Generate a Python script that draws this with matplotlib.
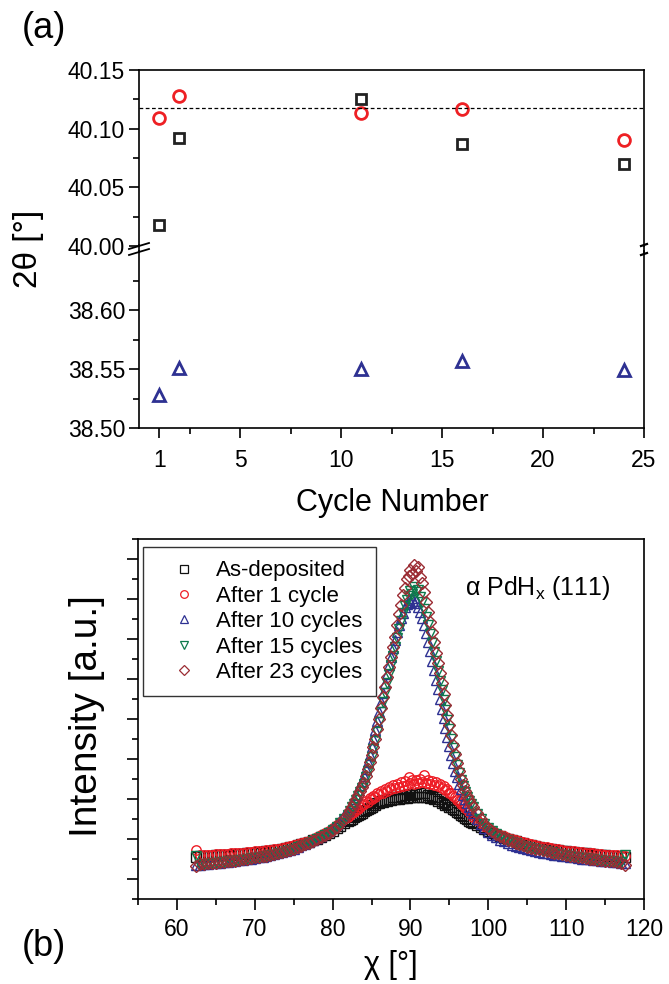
import matplotlib
matplotlib.use('Agg')
import matplotlib.pyplot as plt
from matplotlib.lines import Line2D
from matplotlib.ticker import FixedLocator, NullFormatter

plt.rcParams['font.family'] = ['Liberation Sans', 'DejaVu Sans']
plt.rcParams['mathtext.fontset'] = 'custom'
plt.rcParams['mathtext.rm'] = 'Liberation Sans'
plt.rcParams['mathtext.it'] = 'Liberation Sans:italic'

# ---------------- panel (a) data ----------------
cycles = [1, 2, 11, 16, 24]
peak_square = [40.018, 40.092, 40.125, 40.087, 40.070]
peak_circle = [40.109, 40.128, 40.113, 40.117, 40.090]
peak_triangle = [38.528, 38.551, 38.550, 38.557, 38.549]
reference_2theta = 40.118
xticks_a = [1, 5, 10, 15, 20, 25]
upper_ticks = [40.00, 40.05, 40.10, 40.15]
lower_ticks = [38.50, 38.55, 38.60]

# ---------------- panel (b) data ----------------
chi = [62.5, 63.0, 63.5, 64.0, 64.5, 65.0, 65.5, 66.0, 66.5, 67.0, 67.5, 68.0, 68.5, 69.0, 69.5,
       70.0, 70.5, 71.0, 71.5, 72.0, 72.5, 73.0, 73.5, 74.0, 74.5, 75.0, 75.5, 76.0, 76.5, 77.0,
       77.5, 78.0, 78.5, 79.0, 79.5, 80.0, 80.5, 81.0, 81.5, 82.0,
       82.25, 82.5, 82.75, 83.0, 83.25, 83.5, 83.75, 84.0, 84.25, 84.5, 84.75, 85.0, 85.25, 85.5,
       85.75, 86.0, 86.25, 86.5, 86.75, 87.0, 87.25, 87.5, 87.75, 88.0, 88.25, 88.5, 88.75, 89.0,
       89.25, 89.5, 89.75, 90.0, 90.25, 90.5, 90.75, 91.0, 91.25, 91.5, 91.75, 92.0, 92.25, 92.5,
       92.75, 93.0, 93.25, 93.5, 93.75, 94.0, 94.25, 94.5, 94.75, 95.0, 95.25, 95.5, 95.75, 96.0,
       96.25, 96.5, 96.75, 97.0, 97.25, 97.5, 97.75, 98.0,
       98.5, 99.0, 99.5, 100.0, 100.5, 101.0, 101.5, 102.0, 102.5, 103.0, 103.5, 104.0, 104.5,
       105.0, 105.5, 106.0, 106.5, 107.0, 107.5, 108.0, 108.5, 109.0, 109.5, 110.0, 110.5, 111.0,
       111.5, 112.0, 112.5, 113.0, 113.5, 114.0, 114.5, 115.0, 115.5, 116.0, 116.5, 117.0, 117.5]

as_deposited = [0.56, 0.57, 0.57, 0.58, 0.58, 0.59, 0.59, 0.60, 0.60, 0.61, 0.62, 0.62, 0.63, 0.64, 0.65,
                0.66, 0.67, 0.68, 0.69, 0.70, 0.72, 0.73, 0.75, 0.77, 0.79, 0.81, 0.84, 0.87, 0.90, 0.93,
                0.97, 1.01, 1.05, 1.10, 1.15, 1.21, 1.27, 1.33, 1.39, 1.45,
                1.48, 1.51, 1.54, 1.57, 1.60, 1.63, 1.66, 1.69, 1.72, 1.75, 1.78, 1.81, 1.84, 1.86,
                1.89, 1.91, 1.94, 1.92, 1.98, 1.95, 2.01, 1.97, 2.04, 1.99, 2.06, 2.00, 2.08, 2.02,
                2.10, 2.03, 2.12, 2.04, 2.10, 2.04, 2.13, 2.05, 2.15, 2.06, 2.14, 2.04, 2.11, 2.02,
                2.08, 1.99, 2.04, 1.95, 1.99, 1.91, 1.93, 1.86, 1.87, 1.80, 1.80, 1.74, 1.73, 1.67,
                1.66, 1.60, 1.58, 1.53, 1.50, 1.46, 1.43, 1.39,
                1.34, 1.29, 1.24, 1.19, 1.15, 1.11, 1.07, 1.03, 1.00, 0.97, 0.94, 0.91, 0.89,
                0.86, 0.84, 0.82, 0.80, 0.78, 0.76, 0.75, 0.73, 0.72, 0.70, 0.69, 0.68, 0.67,
                0.66, 0.65, 0.64, 0.63, 0.62, 0.61, 0.60, 0.59, 0.58, 0.58, 0.57, 0.56, 0.55]

after_1 = [0.73, 0.60, 0.60, 0.61, 0.61, 0.62, 0.62, 0.63, 0.63, 0.64, 0.65, 0.65, 0.66, 0.67, 0.68,
           0.69, 0.70, 0.71, 0.72, 0.73, 0.75, 0.76, 0.78, 0.80, 0.82, 0.84, 0.87, 0.90, 0.93, 0.96,
           1.00, 1.05, 1.10, 1.15, 1.21, 1.28, 1.35, 1.42, 1.49, 1.56,
           1.60, 1.64, 1.68, 1.72, 1.76, 1.80, 1.84, 1.88, 1.95, 1.92, 2.02, 2.00, 2.08, 2.05,
           2.14, 2.12, 2.20, 2.16, 2.25, 2.20, 2.30, 2.24, 2.34, 2.27, 2.38, 2.30, 2.42, 2.33,
           2.45, 2.36, 2.55, 2.40, 2.48, 2.38, 2.47, 2.40, 2.50, 2.42, 2.60, 2.40, 2.48, 2.38,
           2.45, 2.36, 2.42, 2.32, 2.38, 2.28, 2.32, 2.22, 2.25, 2.15, 2.16, 2.07, 2.06, 1.98,
           1.96, 1.88, 1.85, 1.78, 1.74, 1.67, 1.62, 1.56,
           1.48, 1.40, 1.33, 1.27, 1.21, 1.16, 1.11, 1.07, 1.03, 1.00, 0.97, 0.94, 0.92,
           0.89, 0.87, 0.85, 0.83, 0.81, 0.79, 0.77, 0.76, 0.74, 0.73, 0.71, 0.70, 0.69,
           0.68, 0.67, 0.66, 0.65, 0.64, 0.63, 0.62, 0.61, 0.60, 0.60, 0.59, 0.58, 0.57]

after_10 = [0.34, 0.36, 0.37, 0.38, 0.39, 0.40, 0.41, 0.42, 0.43, 0.44, 0.46, 0.47, 0.48, 0.50, 0.51,
            0.53, 0.55, 0.56, 0.58, 0.60, 0.62, 0.64, 0.67, 0.70, 0.73, 0.76, 0.80, 0.84, 0.88, 0.92,
            0.97, 1.02, 1.08, 1.14, 1.21, 1.29, 1.38, 1.48, 1.59, 1.71,
            1.80, 1.90, 2.00, 2.11, 2.22, 2.34, 2.46, 2.58, 2.74, 2.92, 3.10, 3.30, 3.50, 3.72,
            3.95, 4.18, 4.42, 4.66, 4.90, 5.12, 5.35, 5.56, 5.78, 5.98, 6.18, 6.36, 6.52, 6.66,
            6.80, 6.88, 6.98, 6.92, 7.02, 6.90, 6.95, 6.80, 6.68, 6.52, 6.34, 6.14, 5.92, 5.70,
            5.46, 5.22, 4.98, 4.74, 4.50, 4.26, 4.02, 3.78, 3.55, 3.32, 3.10, 2.90, 2.71, 2.54,
            2.38, 2.24, 2.11, 2.00, 1.90, 1.81, 1.72, 1.64,
            1.50, 1.38, 1.27, 1.18, 1.10, 1.04, 0.98, 0.94, 0.90, 0.86, 0.83, 0.80, 0.77,
            0.75, 0.72, 0.70, 0.68, 0.66, 0.65, 0.63, 0.61, 0.60, 0.58, 0.57, 0.55, 0.54,
            0.53, 0.51, 0.50, 0.49, 0.48, 0.47, 0.46, 0.45, 0.44, 0.43, 0.42, 0.41, 0.40]

after_15 = [0.58, 0.36, 0.38, 0.38, 0.39, 0.41, 0.42, 0.42, 0.44, 0.45, 0.46, 0.48, 0.48, 0.50, 0.52,
            0.53, 0.55, 0.56, 0.58, 0.60, 0.61, 0.64, 0.66, 0.69, 0.72, 0.75, 0.79, 0.82, 0.86, 0.90,
            0.95, 0.99, 1.04, 1.09, 1.16, 1.22, 1.30, 1.39, 1.50, 1.61,
            1.70, 1.79, 1.88, 1.98, 2.08, 2.18, 2.28, 2.38, 2.54, 2.70, 2.88, 3.05, 3.25, 3.45,
            3.68, 3.92, 4.18, 4.42, 4.66, 4.90, 5.12, 5.36, 5.58, 5.80, 6.02, 6.25, 6.45, 6.65,
            6.82, 6.98, 7.08, 7.20, 7.12, 7.30, 7.18, 7.22, 7.05, 6.92, 6.75, 6.55, 6.35, 6.12,
            5.90, 5.68, 5.45, 5.20, 4.96, 4.72, 4.48, 4.22, 3.98, 3.74, 3.50, 3.27, 3.05, 2.85,
            2.66, 2.48, 2.33, 2.18, 2.06, 1.96, 1.87, 1.79,
            1.63, 1.49, 1.37, 1.27, 1.19, 1.12, 1.06, 1.01, 0.97, 0.93, 0.89, 0.86, 0.83,
            0.80, 0.78, 0.75, 0.73, 0.71, 0.69, 0.67, 0.65, 0.63, 0.61, 0.60, 0.58, 0.56,
            0.55, 0.53, 0.52, 0.51, 0.49, 0.48, 0.47, 0.46, 0.45, 0.44, 0.43, 0.42, 0.60]

after_23 = [0.33, 0.37, 0.38, 0.39, 0.40, 0.41, 0.42, 0.43, 0.44, 0.45, 0.46, 0.47, 0.49, 0.50, 0.52,
            0.54, 0.55, 0.57, 0.58, 0.60, 0.62, 0.64, 0.67, 0.70, 0.73, 0.76, 0.79, 0.83, 0.87, 0.91,
            0.95, 0.99, 1.04, 1.10, 1.16, 1.23, 1.31, 1.40, 1.51, 1.63,
            1.72, 1.80, 1.90, 2.00, 2.10, 2.20, 2.30, 2.40, 2.57, 2.75, 2.92, 3.10, 3.30, 3.50,
            3.75, 4.00, 4.28, 4.55, 4.80, 5.05, 5.30, 5.55, 5.80, 6.05, 6.35, 6.62, 6.85, 7.10,
            7.28, 7.50, 7.58, 7.72, 7.62, 7.86, 7.70, 7.80, 7.55, 7.40, 7.18, 6.92, 6.68, 6.42,
            6.18, 5.92, 5.66, 5.40, 5.15, 4.90, 4.62, 4.35, 4.10, 3.85, 3.60, 3.35, 3.12, 2.90,
            2.70, 2.50, 2.35, 2.20, 2.08, 1.98, 1.88, 1.80,
            1.64, 1.50, 1.38, 1.28, 1.20, 1.13, 1.07, 1.02, 0.98, 0.94, 0.90, 0.87, 0.84,
            0.81, 0.78, 0.76, 0.74, 0.72, 0.70, 0.68, 0.66, 0.64, 0.62, 0.60, 0.58, 0.57,
            0.55, 0.54, 0.52, 0.51, 0.50, 0.48, 0.47, 0.46, 0.45, 0.44, 0.43, 0.41, 0.36]

series_labels = ['As-deposited', 'After 1 cycle', 'After 10 cycles', 'After 15 cycles', 'After 23 cycles']
series_values = [as_deposited, after_1, after_10, after_15, after_23]
series_markers = ['s', 'o', '^', 'v', 'D']
series_colors = ['#111111', '#ee1c25', '#2e3192', '#0d7a4c', '#9b2c33']

# ---------------- figure ----------------
W, H = 669, 984
fig = plt.figure(figsize=(W / 100, H / 100), dpi=100)


def fx(px):
    return px / W


def fy(py):
    return 1 - py / H


def box(l, t, r, b):
    return [fx(l), fy(b), fx(r) - fx(l), fy(t) - fy(b)]


TICK_FS = 16.5
LW = 1.2

ax_up = fig.add_axes(box(139, 70, 644, 246))
ax_lo = fig.add_axes(box(139, 251, 644, 428))

sq_c, ci_c, tr_c = '#222222', '#ee2024', '#2e3192'
ax_up.plot(cycles, peak_square, ls='none', marker='s', ms=7, mew=2.0, mfc='none', mec=sq_c)
ax_up.plot(cycles, peak_circle, ls='none', marker='o', ms=8.5, mew=2.0, mfc='none', mec=ci_c)
ax_up.axhline(reference_2theta, color='black', lw=0.9, ls=(0, (3, 2)))
ax_lo.plot(cycles, peak_triangle, ls='none', marker='^', ms=8.5, mew=2.0, mfc='none', mec=tr_c)

for ax in (ax_up, ax_lo):
    ax.set_xlim(0, 25)
    for s in ax.spines.values():
        s.set_linewidth(LW)
    ax.tick_params(axis='both', which='both', direction='out', width=LW, labelsize=TICK_FS,
                   top=False, right=False)
    ax.tick_params(axis='both', which='major', length=7)
    ax.tick_params(axis='both', which='minor', length=4)
    ax.tick_params(axis='y', pad=3)

ax_up.set_ylim(40.00, 40.15)
ax_up.yaxis.set_major_locator(FixedLocator(upper_ticks))
ax_up.yaxis.set_minor_locator(FixedLocator([40.025, 40.075, 40.125]))
ax_up.set_yticklabels(['%.2f' % v for v in upper_ticks])
ax_up.spines['bottom'].set_visible(False)
ax_up.tick_params(axis='x', which='both', bottom=False, labelbottom=False)

ax_lo.set_ylim(38.50, 38.65)
ax_lo.yaxis.set_major_locator(FixedLocator(lower_ticks))
ax_lo.yaxis.set_minor_locator(FixedLocator([38.525, 38.575, 38.625]))
ax_lo.set_yticklabels(['%.2f' % v for v in lower_ticks])
ax_lo.spines['top'].set_visible(False)
ax_lo.xaxis.set_major_locator(FixedLocator(xticks_a))
ax_lo.xaxis.set_minor_locator(FixedLocator([2.5, 7.5, 12.5, 17.5, 22.5]))
ax_lo.set_xticklabels([str(v) for v in xticks_a])
ax_lo.tick_params(axis='x', pad=8)

# continuous spines over the break + break marks
for x in (139, 644):
    fig.add_artist(Line2D([fx(x), fx(x)], [fy(245), fy(252)], color='black', lw=LW,
                          transform=fig.transFigure))
for y0 in (249, 255):
    fig.add_artist(Line2D([fx(129), fx(149)], [fy(y0), fy(y0 - 6)], color='black', lw=1.3,
                          transform=fig.transFigure))
for y0 in (246, 255):
    fig.add_artist(Line2D([fx(641), fx(647)], [fy(y0), fy(y0 - 2)], color='black', lw=1.6,
                          transform=fig.transFigure))

fig.text(fx(29), fy(249), '2θ [°]', rotation=90, ha='center', va='center', fontsize=24)
fig.text(fx(392), fy(503), 'Cycle Number', ha='center', va='center', fontsize=22)
fig.text(fx(44), fy(28), '(a)', ha='center', va='center', fontsize=26)

# ---------------- panel (b) ----------------
ax_b = fig.add_axes(box(138, 539, 644, 899))
for vals, lab, mk, col in zip(series_values, series_labels, series_markers, series_colors):
    n = min(len(chi), len(vals))
    ms = 6.8 if mk != 'D' else 6.2
    ax_b.plot(chi[:n], vals[:n], ls='none', marker=mk, ms=ms, mew=1.0, mfc='none', mec=col,
              label=lab)

ax_b.set_xlim(55, 120)
ax_b.set_ylim(-0.5, 8.5)
ax_b.xaxis.set_major_locator(FixedLocator([60, 70, 80, 90, 100, 110, 120]))
ax_b.xaxis.set_minor_locator(FixedLocator([55, 65, 75, 85, 95, 105, 115]))
ax_b.yaxis.set_major_locator(FixedLocator(list(range(0, 9))))
ax_b.yaxis.set_minor_locator(FixedLocator([v + 0.5 for v in range(-1, 9)]))
ax_b.yaxis.set_major_formatter(NullFormatter())
for s in ax_b.spines.values():
    s.set_linewidth(LW)
ax_b.tick_params(axis='both', which='both', direction='out', width=LW, labelsize=TICK_FS,
                 top=False, right=False)
ax_b.tick_params(axis='both', which='major', length=8)
ax_b.tick_params(axis='both', which='minor', length=4.5)
ax_b.tick_params(axis='x', pad=6)

leg_handles = [Line2D([], [], ls='none', marker=m, ms=5.5 if m != 'D' else 5, mew=0.9,
                      mfc='none', mec=c) for m, c in zip(series_markers, series_colors)]
leg = ax_b.legend(leg_handles, series_labels, loc='upper left',
                  bbox_to_anchor=((143 - 138) / 506, (899 - 547) / 360), borderaxespad=0,
                  fontsize=16, frameon=True, fancybox=False, edgecolor='black',
                  handlelength=2.5, handletextpad=0.2, labelspacing=0.2, borderpad=0.6)
leg.get_frame().set_linewidth(1.0)

ax_b.text(90 + (468 - 413.8) / 7.785, 7.27, 'α PdH$_\\mathregular{x}$ (111)', fontsize=18,
          ha='left', va='center')

fig.text(fx(87), fy(716), 'Intensity [a.u.]', rotation=90, ha='center', va='center',
         fontsize=28)
fig.text(fx(391), fy(965), 'χ [°]', ha='center', va='center', fontsize=22)
fig.text(fx(44), fy(946), '(b)', ha='center', va='center', fontsize=26)

fig.savefig('out.png', dpi=100)
